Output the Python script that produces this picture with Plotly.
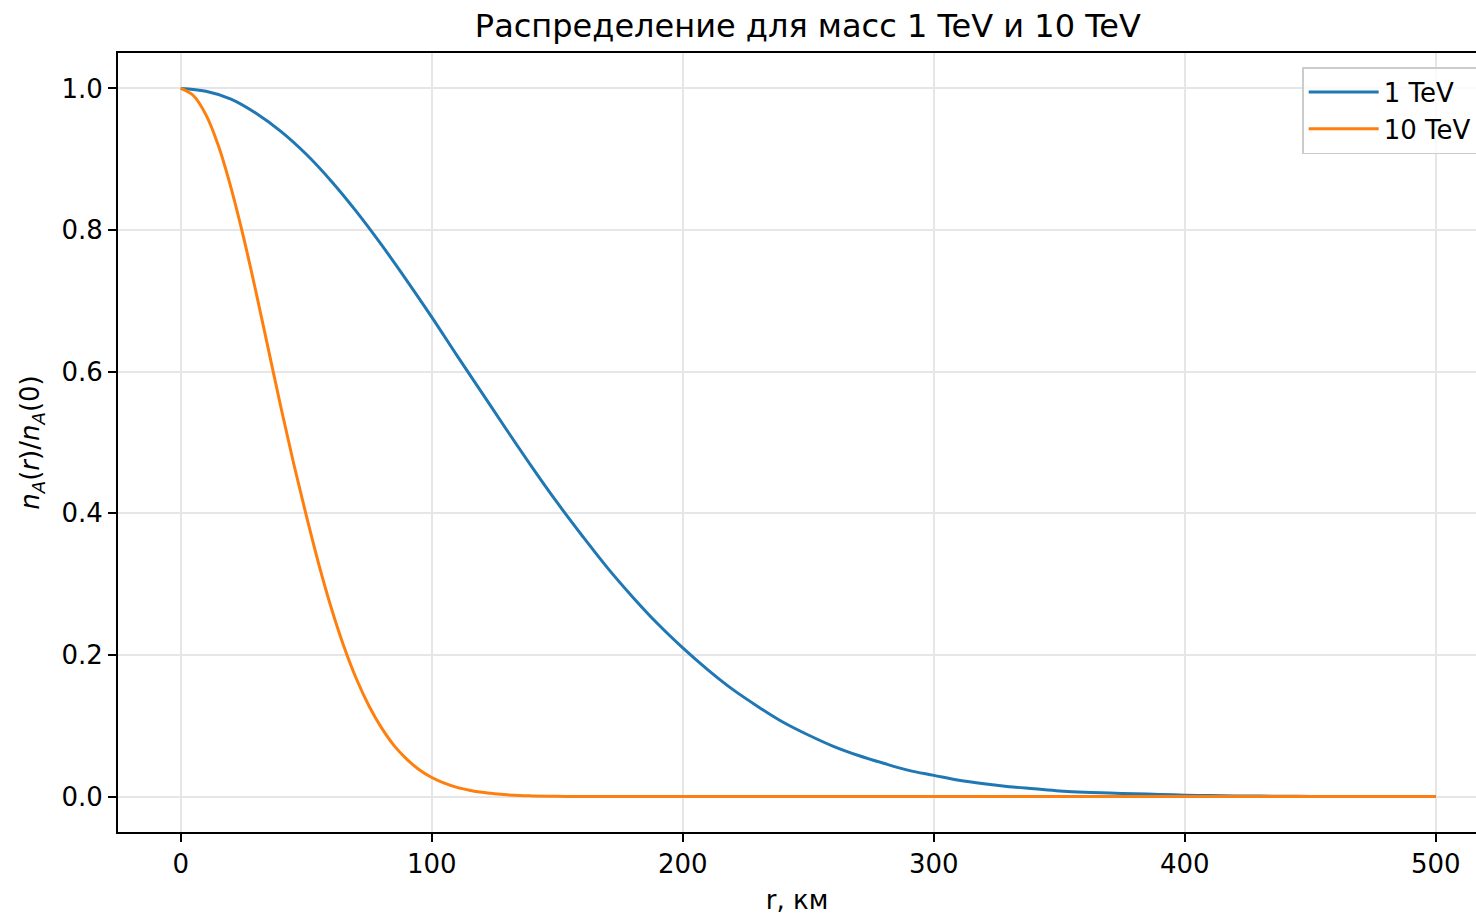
import plotly.graph_objects as go

# Values
r_1tev = [0, 10, 20, 30, 40, 50, 60, 70, 80, 90, 100, 110, 120, 130, 140, 150, 160, 170, 180, 190,
          200, 210, 220, 230, 240, 250, 260, 270, 280, 290, 300, 310, 320, 330, 340, 350, 360, 370,
          380, 390, 400, 410, 420, 430, 440, 450, 460, 470, 480, 490, 500]
n_1tev = [1.000, 0.996, 0.985, 0.965, 0.939, 0.907, 0.869, 0.826, 0.779, 0.729, 0.677, 0.623, 0.570,
          0.517, 0.465, 0.415, 0.368, 0.323, 0.282, 0.244, 0.210, 0.179, 0.151, 0.127, 0.105, 0.087,
          0.071, 0.058, 0.047, 0.037, 0.030, 0.023, 0.018, 0.014, 0.011, 0.008, 0.006, 0.005, 0.004,
          0.003, 0.002, 0.0014, 0.001, 0.0007, 0.0005, 0.0003, 0.0002, 0.0001, 0.0001, 0.0, 0.0]

r_10tev = [0, 5, 10, 15, 20, 25, 30, 35, 40, 45, 50, 55, 60, 65, 70, 75, 80, 85, 90, 95, 100,
           105, 110, 115, 120, 125, 130, 135, 140, 150, 160, 175, 200, 250, 300, 350, 400, 450, 500]
n_10tev = [1.000, 0.990, 0.963, 0.919, 0.860, 0.790, 0.712, 0.630, 0.548, 0.470, 0.397, 0.328, 0.266,
           0.212, 0.166, 0.128, 0.097, 0.072, 0.053, 0.038, 0.027, 0.019, 0.013, 0.009, 0.006, 0.004,
           0.0025, 0.0015, 0.001, 0.0004, 0.0001, 0.0, 0.0, 0.0, 0.0, 0.0, 0.0, 0.0, 0.0]

series_names = ["1 TeV", "10 TeV"]
x_ticks = [0, 100, 200, 300, 400, 500]
y_ticks = [0.0, 0.2, 0.4, 0.6, 0.8, 1.0]

title_text = "Распределение для масс 1 TeV и 10 TeV"
x_label = "r, км"
y_label = "<i>n</i><sub><i>A</i></sub>(<i>r</i>)/<i>n</i><sub><i>A</i></sub>(0)"

FONT = "DejaVu Sans"
TICK_SIZE = 26

fig = go.Figure()
fig.add_trace(go.Scatter(x=r_1tev, y=n_1tev, mode="lines", name=series_names[0],
                         line=dict(color="#1f77b4", width=3, shape="spline", smoothing=1.0)))
fig.add_trace(go.Scatter(x=r_10tev, y=n_10tev, mode="lines", name=series_names[1],
                         line=dict(color="#ff7f0e", width=3, shape="spline", smoothing=1.0)))

axis_common = dict(
    showline=True, linecolor="#000000", linewidth=2,
    ticks="outside", ticklen=8, tickwidth=2, tickcolor="#000000",
    showgrid=True, gridcolor="#e6e6e6", gridwidth=1.5,
    zeroline=False,
    tickfont=dict(family=FONT, size=TICK_SIZE, color="#000000"),
)

fig.update_layout(
    width=1476, height=915,
    paper_bgcolor="white", plot_bgcolor="white",
    margin=dict(l=118, r=0, t=53, b=83, autoexpand=False),
    font=dict(family=FONT, size=TICK_SIZE, color="#000000"),
    title=dict(text=title_text, x=0.508, xref="paper", xanchor="center",
               y=1 - 26 / 915, yref="container", yanchor="middle",
               font=dict(family=FONT, size=32, color="#000000")),
    xaxis=dict(range=[-25, 516], tickvals=x_ticks, mirror=True,
               title=dict(text=x_label, standoff=14, font=dict(family=FONT, size=TICK_SIZE)),
               **axis_common),
    yaxis=dict(range=[-0.05, 1.05], tickvals=y_ticks, tickformat=".1f", mirror=False,
               title=dict(text=y_label, standoff=14, font=dict(family=FONT, size=TICK_SIZE)),
               **axis_common),
    legend=dict(x=0.872, y=0.982, xanchor="left", yanchor="top",
                bgcolor="rgba(255,255,255,0.8)", bordercolor="#cccccc", borderwidth=1.5,
                font=dict(family=FONT, size=TICK_SIZE, color="#000000"),
                itemwidth=70, tracegroupgap=0),
    showlegend=True,
)

fig.write_html(
    "out.html",
    config={"displayModeBar": False},
    post_script="document.body.style.margin='0';document.body.style.overflow='hidden';",
)
